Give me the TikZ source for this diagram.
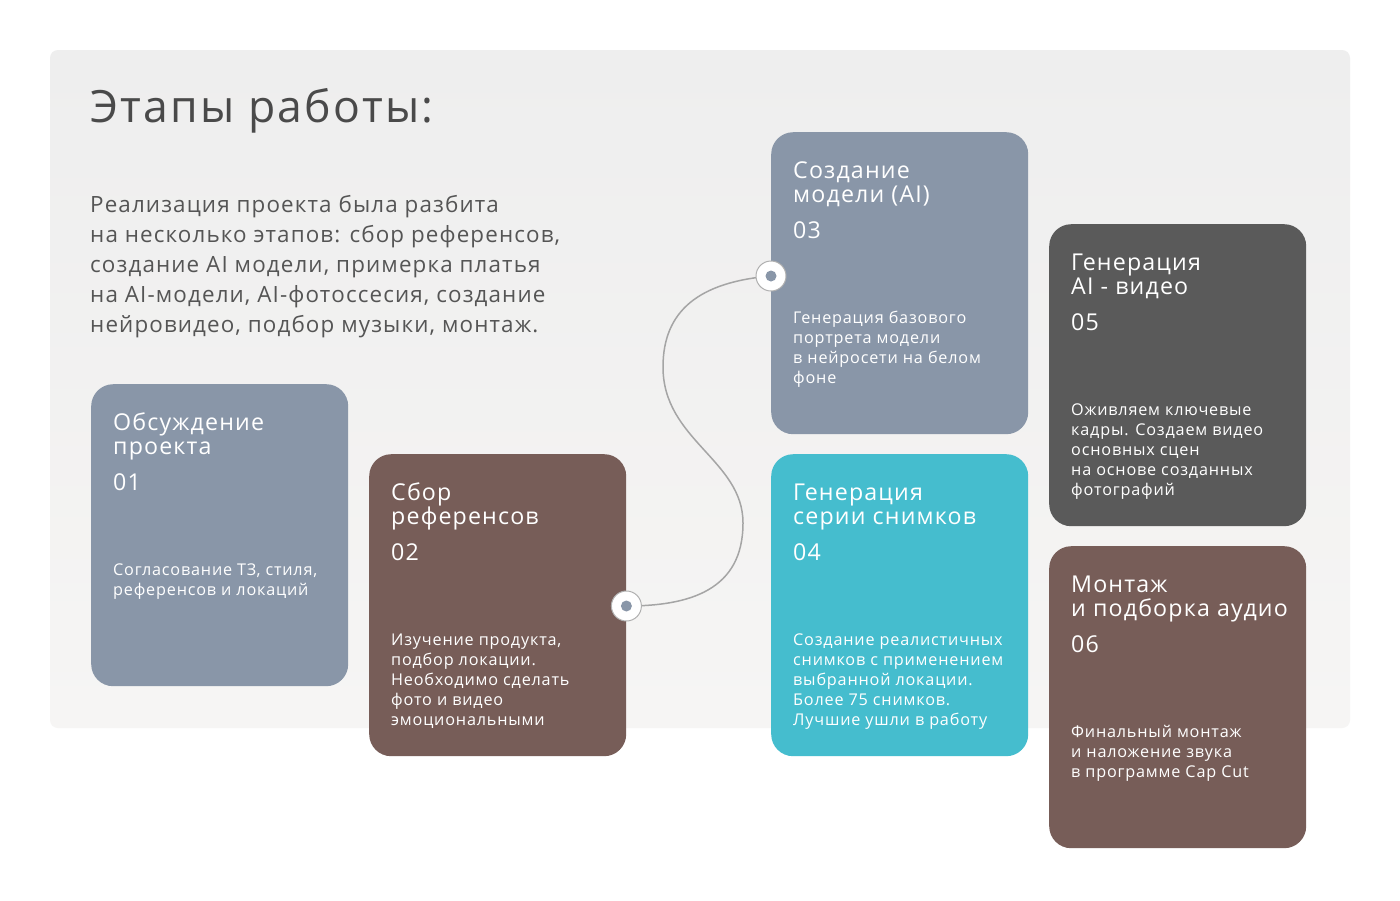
\documentclass[tikz,border=0pt]{standalone}
\usepackage{fontspec}
\setmainfont[LetterSpace=5]{Open Sans}
\usetikzlibrary{calc}
\definecolor{slate}{HTML}{8996A8}
\definecolor{brownc}{HTML}{775D58}
\definecolor{cyanc}{HTML}{45BDCE}
\definecolor{darkc}{HTML}{5A5A5A}
\definecolor{headc}{HTML}{4A4A4A}
\definecolor{parac}{HTML}{555555}
\definecolor{panelT}{HTML}{EEEEEE}
\definecolor{panelB}{HTML}{F6F5F4}
\definecolor{linec}{HTML}{A5A5A5}
\definecolor{ringc}{HTML}{B0B0B0}
\tikzset{
  card/.style={anchor=north west, minimum width=257pt, minimum height=302pt, rounded corners=22pt, inner sep=0pt, draw=none},
  ttl/.style={anchor=base west, inner sep=0pt, text=white, font=\fontsize{23.2}{24}\selectfont},
  num/.style={anchor=base west, inner sep=0pt, text=white, font=\fontsize{23.2}{24}\selectfont},
  dsc/.style={anchor=base west, inner sep=0pt, text=white, font=\fontsize{16.2}{20}\selectfont},
  ring/.style={circle, minimum size=30pt, inner sep=0pt, fill=white, draw=ringc, line width=1pt},
  dot/.style={circle, minimum size=11pt, inner sep=0pt, fill=slate},
  para/.style={anchor=base west, inner sep=0pt, text=parac, font=\fontsize{22.4}{30}\selectfont},
  link/.style={draw=linec, line width=1.5pt}
}
\newcommand\cardlines[5]{%
  \foreach \t [count=\i] in {#5}{%
    \node[#2] (#1#2\i) at ($(#1.north west)+(22,{#3+(\i-1)*#4})$) {\t};}}
\begin{document}
\begin{tikzpicture}[x=1pt,y=-1pt]
\useasboundingbox (0,0) rectangle (1400,900);
\fill[white] (0,0) rectangle (1400,900);
\shade[top color=panelT, bottom color=panelB, rounded corners=8pt] (50,50) rectangle (1350,728);

\node[anchor=base west, inner sep=0pt, text=headc, font=\fontsize{44.5}{48}\selectfont] (title) at (90,122) {Этапы работы:};
\foreach \t [count=\i] in {{Реализация проекта была разбита},{на несколько этапов: сбор референсов,},{создание AI модели, примерка платья},{на AI-модели, AI-фотоссесия, создание},{нейровидео, подбор музыки, монтаж.}}{%
  \node[para] (para\i) at (90,{212+(\i-1)*30}) {\t};}

\node[card, fill=slate] (c1) at (91,384) {};
\node[card, fill=brownc] (c2) at (369,454) {};
\node[card, fill=slate] (c3) at (771,132) {};
\node[card, fill=cyanc] (c4) at (771,454) {};
\node[card, fill=darkc] (c5) at (1049,224) {};
\node[card, fill=brownc] (c6) at (1049,546) {};

\cardlines{c1}{ttl}{46}{24}{{Обсуждение},{проекта}}
\cardlines{c1}{num}{106}{24}{{01}}
\cardlines{c1}{dsc}{191}{20}{{Согласование ТЗ, стиля,},{референсов и локаций}}

\cardlines{c2}{ttl}{46}{24}{{Сбор},{референсов}}
\cardlines{c2}{num}{106}{24}{{02}}
\cardlines{c2}{dsc}{191}{20}{{Изучение продукта,},{подбор локации.},{Необходимо сделать},{фото и видео},{эмоциональными}}

\cardlines{c3}{ttl}{46}{24}{{Создание},{модели (AI)}}
\cardlines{c3}{num}{106}{24}{{03}}
\cardlines{c3}{dsc}{191}{20}{{Генерация базового},{портрета модели},{в нейросети на белом},{фоне}}

\cardlines{c4}{ttl}{46}{24}{{Генерация},{серии снимков}}
\cardlines{c4}{num}{106}{24}{{04}}
\cardlines{c4}{dsc}{191}{20}{{Создание реалистичных},{снимков с применением},{выбранной локации.},{Более 75 снимков.},{Лучшие ушли в работу}}

\cardlines{c5}{ttl}{46}{24}{{Генерация},{AI - видео}}
\cardlines{c5}{num}{106}{24}{{05}}
\cardlines{c5}{dsc}{191}{20}{{Оживляем ключевые},{кадры. Создаем видео},{основных сцен},{на основе созданных},{фотографий}}

\cardlines{c6}{ttl}{46}{24}{{Монтаж},{и подборка аудио}}
\cardlines{c6}{num}{106}{24}{{06}}
\cardlines{c6}{dsc}{191}{20}{{Финальный монтаж},{и наложение звука},{в программе Cap Cut}}

\coordinate (p2) at ($(c2.north east)+(0,152)$);
\coordinate (p3) at ($(c3.north west)+(0,144)$);
\draw[link] (p2) .. controls (690,606) and (743,590) .. (743,523)
  .. controls (743,460) and (663,440) .. (663,367)
  .. controls (663,310) and (700,282) .. (p3);
\node[ring] (r2) at (p2) {};
\node[dot] (k2) at (r2) {};
\node[ring] (r3) at (p3) {};
\node[dot] (k3) at (r3) {};
\end{tikzpicture}
\end{document}
